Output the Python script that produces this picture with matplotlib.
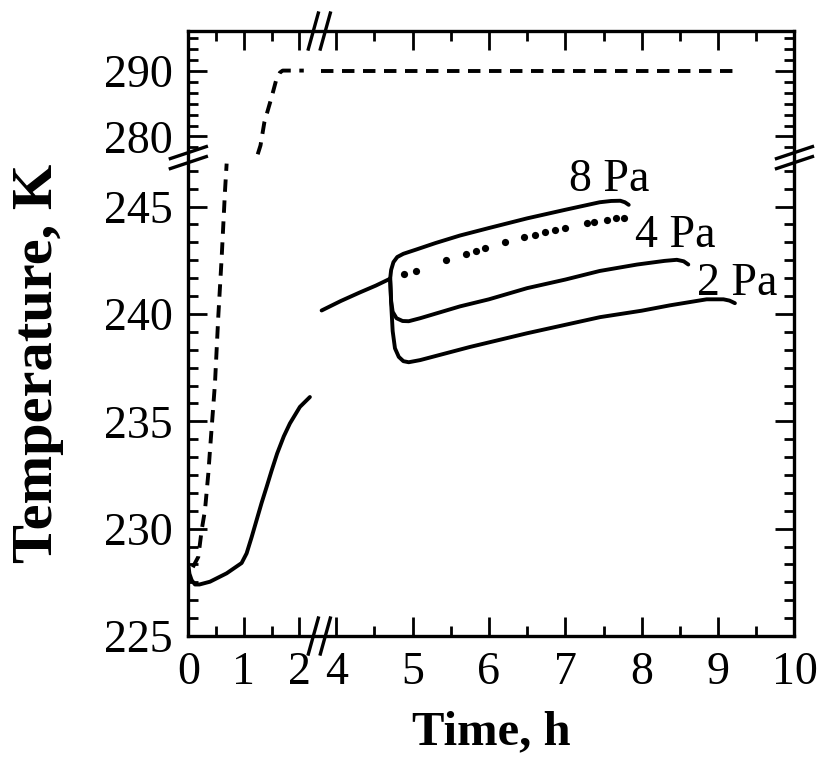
import numpy as np
import matplotlib
matplotlib.use("Agg")
import matplotlib.pyplot as plt
from matplotlib.lines import Line2D
from matplotlib.transforms import IdentityTransform

plt.rcParams['font.family'] = ['Liberation Serif', 'DejaVu Serif']

# shelf temperature (dashed), split at the broken axes
shelf_lo_t = [0.08, 0.18, 0.24, 0.30, 0.36, 0.39, 0.48, 0.54, 0.60, 0.66, 0.69]
shelf_lo_T = [228.2, 228.69, 229.93, 230.86, 232.57, 233.65, 236.77, 239.9, 242.6, 245.7, 247.0]
shelf_hi_t = [1.25, 1.30, 1.37, 1.50, 1.58, 1.65, 1.70, 2.08]
shelf_hi_T = [277.3, 278.64, 282.17, 285.95, 288.48, 289.7, 290.0, 290.0]
shelf_end_t = [3.80, 9.22]
shelf_end_T = [290.0, 290.0]

# product temperature before the pressure change
prod_t = [0.0, 0.02, 0.06, 0.12, 0.20, 0.39, 0.69, 0.96, 1.05, 1.14, 1.23, 1.32, 1.41,
          1.50, 1.60, 1.72, 1.83, 2.01, 2.19]
prod_T = [228.3, 227.9, 227.6, 227.4, 227.4, 227.53, 227.92, 228.4, 228.85, 229.6, 230.4,
          231.2, 231.94, 232.7, 233.5, 234.3, 234.9, 235.67, 236.13]
prod2_t = [3.81, 4.06, 4.31, 4.52, 4.707]
prod2_T = [240.16, 240.6, 241.0, 241.32, 241.64]

# after the pressure change
pa8_t = [4.707, 4.72, 4.75, 4.80, 4.88, 5.05, 5.30, 5.62, 6.0, 6.50, 7.0, 7.45, 7.60, 7.72, 7.78, 7.83]
pa8_T = [241.64, 242.05, 242.41, 242.65, 242.80, 243.0, 243.3, 243.65, 244.0, 244.45, 244.85,
         245.2, 245.26, 245.27, 245.2, 245.08]
pa4_t = [4.707, 4.72, 4.74, 4.79, 4.87, 4.95, 5.1, 5.62, 6.0, 6.5, 7.0, 7.45, 7.94, 8.3, 8.46, 8.55, 8.61]
pa4_T = [241.64, 240.6, 240.1, 239.8, 239.67, 239.66, 239.8, 240.35, 240.68, 241.2, 241.6,
         242.0, 242.3, 242.47, 242.52, 242.45, 242.3]
pa2_t = [4.707, 4.72, 4.74, 4.77, 4.82, 4.88, 4.95, 5.1, 5.75, 6.5, 7.06, 7.455, 8.0, 8.37,
         8.85, 9.07, 9.15, 9.22]
pa2_T = [241.64, 240.5, 239.2, 238.4, 238.0, 237.8, 237.75, 237.85, 238.46, 239.1, 239.54,
         239.85, 240.15, 240.4, 240.68, 240.68, 240.62, 240.5]
dots_t = [4.894, 5.047, 5.44, 5.70, 5.83, 5.95, 6.21, 6.46, 6.60, 6.74, 6.87, 6.99, 7.28,
          7.38, 7.54, 7.67, 7.77]
dots_T = [241.84, 242.02, 242.52, 242.8, 242.92, 243.08, 243.34, 243.57, 243.68, 243.81,
          243.92, 244.01, 244.22, 244.30, 244.38, 244.47, 244.47]

labels = ['8 Pa', '4 Pa', '2 Pa']
label_t = [7.57, 8.44, 9.25]
label_T = [245.74, 243.1, 240.86]

xticks = [0, 1, 2, 4, 5, 6, 7, 8, 9, 10]
xminor = [0.5, 1.5, 4.5, 5.5, 6.5, 7.5, 8.5, 9.5]
yticks = [225, 230, 235, 240, 245, 280, 290]

# piecewise linear broken scales
XB = [0.0, 2.36, 3.78, 10.0]
XU = [0.0, 131.0, 131.01, 606.2]
YB = [225.0, 247.28, 276.8, 296.0]
YU = [0.0, 479.0, 479.01, 605.7]


def fwd_x(t):
    return np.interp(t, XB, XU)


def inv_x(u):
    return np.interp(u, XU, XB)


def fwd_y(T):
    return np.interp(T, YB, YU)


def inv_y(v):
    return np.interp(v, YU, YB)


fig = plt.figure(figsize=(8.21, 7.57), dpi=100)
ax = fig.add_axes([0.2294, 0.1598, 0.7383, 0.7992])
ax.set_xscale('function', functions=(fwd_x, inv_x))
ax.set_yscale('function', functions=(fwd_y, inv_y))
ax.set_xlim(0, 10)
ax.set_ylim(225, 296)

lw = 2.8
dash = dict(color='black', lw=lw, linestyle=(0, (3.2, 2.2)))
ax.plot(shelf_lo_t, shelf_lo_T, **dash)
ax.plot(shelf_hi_t, shelf_hi_T, **dash)
ax.plot(shelf_end_t, shelf_end_T, **dash)

for t, T in [(prod_t, prod_T), (prod2_t, prod2_T), (pa8_t, pa8_T), (pa4_t, pa4_T), (pa2_t, pa2_T)]:
    ax.plot(t, T, color='black', lw=lw, solid_capstyle='round', solid_joinstyle='round')
ax.plot(dots_t, dots_T, 'o', color='black', ms=5.2, mew=0)

for s, t, T in zip(labels, label_t, label_T):
    ax.text(t, T, s, ha='center', va='baseline', fontsize=33)

ax.set_xticks(xticks)
ax.set_xticklabels([str(v) for v in xticks])
ax.set_xticks(xminor, minor=True)
ymin = [225 + k * 5 / 6 for k in range(1, 27) if k % 6]
ymin += [280 + k * 10 / 6 for k in range(-1, 10) if k % 6]
ax.set_yticks(yticks)
ax.set_yticklabels([str(v) for v in yticks])
ax.set_yticks(ymin, minor=True)

ax.tick_params(which='both', direction='in', top=True, right=True, width=2.0, labelsize=33)
ax.tick_params(which='major', length=14)
ax.tick_params(which='minor', length=7)
ax.tick_params(axis='x', pad=11)
ax.tick_params(axis='y', pad=11)
for sp in ax.spines.values():
    sp.set_linewidth(2.4)

ax.set_xlabel('Time, h', fontsize=35, fontweight='bold', labelpad=12)
ax.set_ylabel('Temperature, K', fontsize=42, fontweight='bold')
ax.yaxis.set_label_coords(-0.205, 0.45)

# break marks, drawn in pixel offsets round the break points
xb = XU[1] / XU[-1]
yb = YU[1] / YU[-1]
ident = IdentityTransform()
for yy in (0, 1):
    cx, cy = ax.transAxes.transform((xb, yy))
    for d in (-6, 6):
        fig.add_artist(Line2D([cx + d - 5, cx + d + 5], [cy - 18, cy + 18],
                              color='black', lw=2.4, transform=ident))
for xx in (0, 1):
    cx, cy = ax.transAxes.transform((xx, yb))
    for d in (-5, 5):
        fig.add_artist(Line2D([cx - 18, cx + 18], [cy + d - 6, cy + d + 6],
                              color='black', lw=2.4, transform=ident))

fig.savefig('out.png', dpi=100)
